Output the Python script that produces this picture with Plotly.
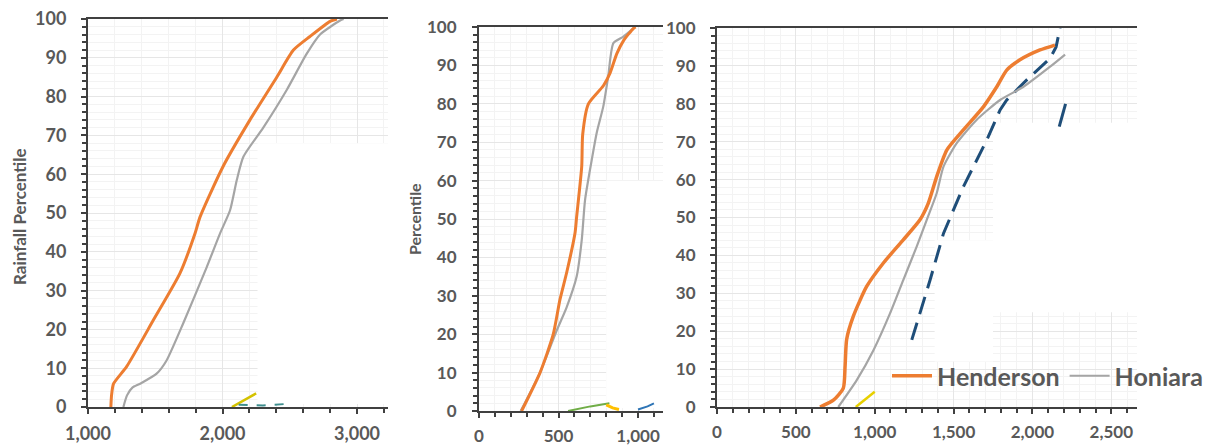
import plotly.graph_objects as go

# ---------------- data ----------------
left_hend_x = [1170, 1175, 1190, 1287, 1486, 1684, 1796, 1833, 2004, 2204, 2403, 2527, 2650, 2800, 2850]
left_hend_y = [0, 3, 6, 10.4, 22.4, 34.5, 44.8, 49, 62, 74, 85, 92, 95.5, 99.4, 100]
left_hon_x = [1263, 1290, 1330, 1387, 1510, 1584, 1708, 1882, 1981, 2056, 2106, 2155, 2303, 2477, 2625, 2725, 2874, 2900]
left_hon_y = [0, 3, 5, 6, 8.6, 12, 21.6, 36, 44.7, 50.7, 58.5, 64.5, 72, 81.7, 91, 96, 99.6, 100]

mid_hend_x = [268, 384, 467, 509, 551, 604, 614, 646, 652, 688, 782, 824, 866, 908, 970, 985]
mid_hend_y = [0, 10, 20, 29, 36, 46.4, 50.6, 63.7, 72, 80, 84.7, 88, 93, 96.4, 99.6, 100]
mid_hon_x = [262, 384, 489, 551, 614, 646, 667, 709, 740, 782, 813, 845, 908, 981]
mid_hon_y = [0, 10, 21, 27, 35, 44.5, 55, 65.4, 72.4, 79.4, 87.3, 95.8, 97.5, 100]

right_hend_x = [653, 738, 801, 812, 822, 864, 949, 1055, 1181, 1287, 1340, 1393, 1457, 1562, 1689, 1774, 1837, 1921, 2048, 2143]
right_hend_y = [0, 1.8, 5, 10.7, 17.8, 23.9, 31.8, 38, 44.1, 49.4, 53.8, 60.8, 67.8, 73.1, 79.2, 84.5, 88.9, 91.6, 94.2, 95.5]
right_hon_x = [769, 886, 992, 1097, 1181, 1266, 1330, 1393, 1436, 1520, 1647, 1795, 1943, 2112, 2207]
right_hon_y = [0, 7.1, 15, 24.7, 33.5, 42.3, 49.4, 56.4, 63.4, 69.6, 75.8, 81, 84.5, 89.8, 93]
right_blue_x = [1235, 1351, 1436, 1562, 1710, 1795, 1837, 1964, 2112, 2150, 2165, 2175]
right_blue_y = [17.7, 33.5, 45.8, 58.1, 70.4, 78.4, 81, 86.3, 92, 95, 98, 100]
right_blue2_x = [2170, 2210]
right_blue2_y = [74, 80]

# small stray marks near the x axes
left_yellow_x = [2070, 2250]
left_yellow_y = [0, 3.5]
left_teal_x = [2120, 2300, 2480]
left_teal_y = [0.6, 0.4, 0.8]
mid_green_x = [560, 700, 820]
mid_green_y = [0, 1.2, 2]
mid_gold_x = [800, 840, 880]
mid_gold_y = [1.6, 0.8, 0.4]
mid_blue_x = [1000, 1060, 1100]
mid_blue_y = [0.4, 1.2, 2]
right_yellow_x = [880, 1000]
right_yellow_y = [0, 4]

series_names = ["Henderson", "Honiara"]
y_ticks = [0, 10, 20, 30, 40, 50, 60, 70, 80, 90, 100]

# ---------------- styling ----------------
W, H = 1207, 448
ORANGE = "#ED7D31"
GRAY = "#A5A5A5"
DBLUE = "#1F4E79"
TXT = "#595959"
AX = "#404040"
FONT = "Lato"

def px_x(p):
    return p / W

def px_y(p):
    return 1 - p / H

fig = go.Figure()

def add_line(x, y, color, width, axis, name=None, legend=False, dash="solid", spline=True):
    xa, ya = axis
    fig.add_trace(go.Scatter(
        x=x, y=y, mode="lines", name=name, showlegend=legend,
        line=dict(color=color, width=width, dash=dash, shape="spline" if spline else "linear", smoothing=0.6),
        xaxis=xa, yaxis=ya, hoverinfo="skip"))

A1, A2, A3 = ("x", "y"), ("x2", "y2"), ("x3", "y3")

add_line(left_hon_x, left_hon_y, GRAY, 2.2, A1)
add_line(left_hend_x, left_hend_y, ORANGE, 3, A1)
add_line(left_yellow_x, left_yellow_y, "#D4C200", 2.5, A1, spline=False)
add_line(left_teal_x, left_teal_y, "#3E8E8E", 2, A1, dash="dash", spline=False)

add_line(mid_hon_x, mid_hon_y, GRAY, 2.2, A2)
add_line(mid_hend_x, mid_hend_y, ORANGE, 3, A2)
add_line(mid_green_x, mid_green_y, "#70AD47", 2, A2, spline=False)
add_line(mid_gold_x, mid_gold_y, "#FFC000", 3, A2, spline=False)
add_line(mid_blue_x, mid_blue_y, "#2E75B6", 2, A2, spline=False)

add_line(right_blue_x, right_blue_y, DBLUE, 3, A3, dash="18px,9px", spline=False)
add_line(right_blue2_x, right_blue2_y, DBLUE, 3, A3, spline=False)
add_line(right_yellow_x, right_yellow_y, "#E8D000", 2.5, A3, spline=False)
add_line(right_hend_x, right_hend_y, ORANGE, 3.5, A3, name=series_names[0], legend=True)
add_line(right_hon_x, right_hon_y, GRAY, 2.2, A3, name=series_names[1], legend=True)

def xaxis_style(domain, rng, dtick, minor_dtick, anchor, fsize):
    return dict(
        domain=domain, range=rng, dtick=dtick, tick0=0, tickformat=",d", anchor=anchor,
        automargin=False,
        showline=True, linecolor=AX, linewidth=2, mirror=True,
        ticks="outside", ticklen=5, tickwidth=2, tickcolor=AX,
        tickfont=dict(family=FONT, size=fsize, color=TXT, weight="bold"), ticklabelstandoff=4,
        showgrid=True, gridcolor="#e6e6e6", gridwidth=1,
        minor=dict(dtick=minor_dtick, ticks="outside", ticklen=4, tickcolor=AX,
                   showgrid=True, gridcolor="#f3f3f3"),
        zeroline=False, fixedrange=True)

def yaxis_style(domain, anchor, standoff, fsize):
    return dict(
        domain=domain, range=[0, 100], tickvals=y_ticks, anchor=anchor,
        automargin=False,
        showline=True, linecolor=AX, linewidth=2,
        ticks="outside", ticklen=5, tickwidth=2, tickcolor=AX,
        tickfont=dict(family=FONT, size=fsize, color=TXT, weight="bold"), ticklabelstandoff=standoff,
        showgrid=True, gridcolor="#e6e6e6", gridwidth=1,
        minor=dict(dtick=2, ticks="outside", ticklen=4, tickcolor=AX,
                   showgrid=True, gridcolor="#f3f3f3"),
        zeroline=False, fixedrange=True)

fig.update_layout(
    width=W, height=H, margin=dict(l=0, r=0, t=0, b=0, autoexpand=False),
    paper_bgcolor="white", plot_bgcolor="white",
    xaxis=xaxis_style([px_x(88), px_x(388)], [1000, 3230], 1000, 200, "y", 18),
    yaxis=yaxis_style([px_y(407), px_y(19)], "x", 11, 18),
    xaxis2=xaxis_style([px_x(479), px_x(663)], [0, 1157], 500, 100, "y2", 17),
    yaxis2=yaxis_style([px_y(411), px_y(27)], "x2", 12, 17),
    xaxis3=xaxis_style([px_x(717), px_x(1137)], [0, 2663], 500, 100, "y3", 17),
    yaxis3=yaxis_style([px_y(407), px_y(28)], "x3", 11, 17),
    legend=dict(orientation="h", x=px_x(887), y=px_y(376), xanchor="left", yanchor="middle",
                bgcolor="rgba(255,255,255,0)", font=dict(family=FONT, size=25, color=TXT, weight="bold"),
                itemwidth=40, tracegroupgap=0),
    showlegend=True,
)

# white masked areas (cover the faint grid as in the reference)
masks = [
    ("x", "y", 2260, 3230, 0.8, 68),
    ("x2", "y2", 800, 1157, 0.8, 60),
    ("x3", "y3", 1750, 2663, 25, 75),
    ("x3", "y3", 1380, 1750, 12, 44),
]
for xr, yr, x0, x1, y0, y1 in masks:
    fig.add_shape(type="rect", xref=xr, yref=yr, x0=x0, x1=x1, y0=y0, y1=y1,
                  fillcolor="white", line=dict(width=0), layer="between")

fig.add_annotation(text="Rainfall Percentile", x=px_x(19), y=px_y(217), xref="paper", yref="paper",
                   xanchor="center", yanchor="middle", textangle=-90, showarrow=False,
                   font=dict(family=FONT, size=17, color=TXT, weight="bold"))
fig.add_annotation(text="Percentile", x=px_x(414), y=px_y(219), xref="paper", yref="paper",
                   xanchor="center", yanchor="middle", textangle=-90, showarrow=False,
                   font=dict(family=FONT, size=16, color=TXT, weight="bold"))

fig.write_html("out.html", config={"displayModeBar": False},
               post_script="document.body.style.margin='0';document.body.style.overflow='hidden';")
